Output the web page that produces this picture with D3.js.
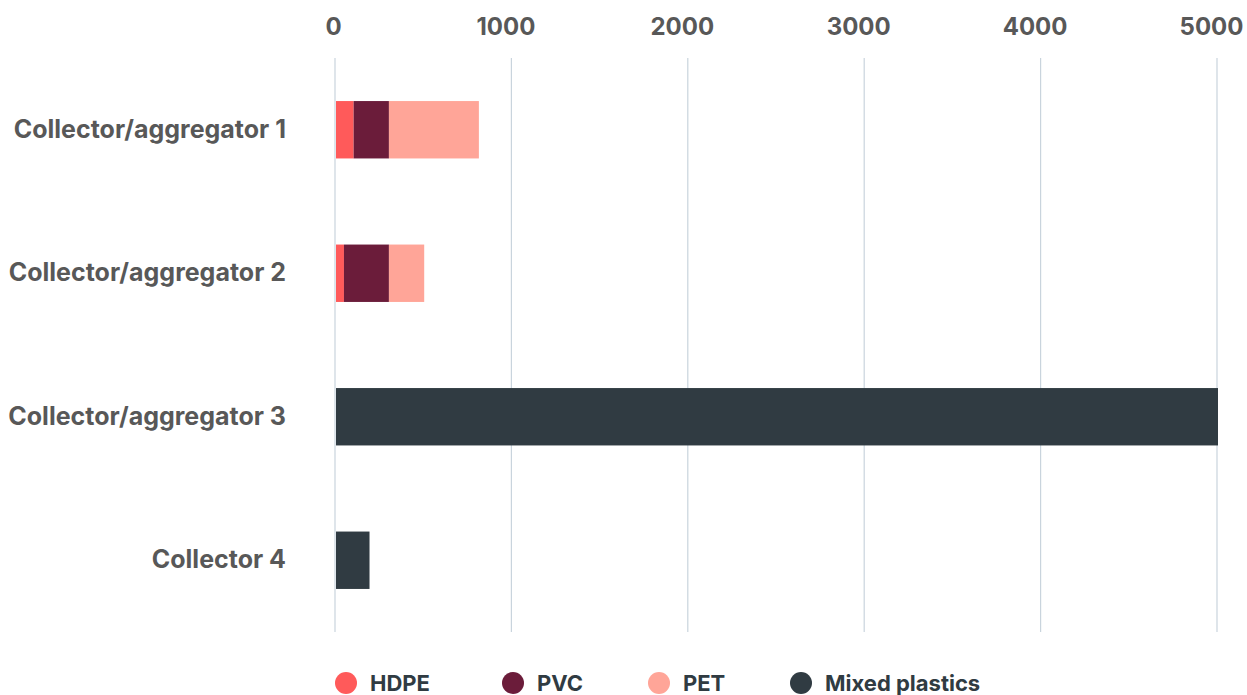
<!DOCTYPE html>
<html>
<head>
<meta charset="utf-8">
<script src="https://cdn.jsdelivr.net/npm/d3@7"></script>
<style>
  html, body { margin: 0; padding: 0; background: #fff; }
  body { font-family: Inter, "Open Sans", sans-serif; }
</style>
</head>
<body>
<div id="chart"></div>
<script>
const categories = ['Collector/aggregator 1', 'Collector/aggregator 2', 'Collector/aggregator 3', 'Collector 4'];
const seriesNames = ['HDPE', 'PVC', 'PET', 'Mixed plastics'];
const hdpe = [100, 45, 0, 0];
const pvc = [200, 255, 0, 0];
const pet = [510, 200, 0, 0];
const mixed = [0, 0, 5000, 190];
const xTicks = [0, 1000, 2000, 3000, 4000, 5000];
const colors = ['#ff5a5a', '#6b1c3a', '#ffa598', '#303b42'];

const width = 1247, height = 695;
const margin = { top: 58, right: 30, bottom: 63, left: 335 };
const innerW = 1217 - margin.left;
const innerH = height - margin.top - margin.bottom;

const svg = d3.select('#chart')
  .append('svg')
  .attr('width', width)
  .attr('height', height);

const g = svg.append('g')
  .attr('transform', `translate(${margin.left},${margin.top})`);

// build table for stacking
const table = categories.map((c, i) => ({
  category: c,
  'HDPE': hdpe[i],
  'PVC': pvc[i],
  'PET': pet[i],
  'Mixed plastics': mixed[i]
}));

const x = d3.scaleLinear().domain([0, 5000]).range([0, innerW]);
const y = d3.scaleBand().domain(categories).range([0, innerH]).paddingInner(0.6).paddingOuter(0.3);

// grid lines
g.append('g')
  .selectAll('line')
  .data(xTicks)
  .enter()
  .append('line')
  .attr('x1', d => x(d))
  .attr('x2', d => x(d))
  .attr('y1', 0)
  .attr('y2', innerH)
  .attr('stroke', '#c9d4dd')
  .attr('stroke-width', 1.2);

// top axis labels
const xAxis = g.append('g')
  .call(d3.axisTop(x).tickValues(xTicks).tickSize(0).tickPadding(23).tickFormat(d3.format('d')));
xAxis.select('.domain').remove();
xAxis.selectAll('text')
  .attr('dx', d => d === 0 ? -2 : -6)
  .style('font-size', '24px')
  .style('font-weight', '700')
  .style('fill', '#585858')
  .style('font-family', 'Inter, "Open Sans", sans-serif');

// stacked bars
const stack = d3.stack().keys(seriesNames);
const layers = stack(table);

g.selectAll('.layer')
  .data(layers)
  .enter()
  .append('g')
  .attr('class', 'layer')
  .attr('fill', (d, i) => colors[i])
  .selectAll('rect')
  .data(d => d)
  .enter()
  .append('rect')
  .attr('x', d => x(d[0]) + 1)
  .attr('y', d => y(d.data.category))
  .attr('width', d => Math.max(0, x(d[1]) - x(d[0])))
  .attr('height', y.bandwidth());

// category labels
const yAxis = g.append('g')
  .call(d3.axisLeft(y).tickSize(0).tickPadding(49));
yAxis.select('.domain').remove();
yAxis.selectAll('text')
  .style('font-size', '25px')
  .style('font-weight', '700')
  .style('fill', '#585858')
  .style('font-family', 'Inter, "Open Sans", sans-serif');

// legend
const legendX = [346, 513, 659, 801];
const legend = svg.append('g');
seriesNames.forEach((name, i) => {
  const item = legend.append('g').attr('transform', `translate(${legendX[i]},683)`);
  item.append('circle').attr('r', 11).attr('fill', colors[i]);
  item.append('text')
    .attr('x', 24)
    .attr('dy', '0.35em')
    .style('font-size', '22px')
    .style('font-weight', '700')
    .style('fill', '#303b42')
    .text(name);
});
</script>
</body>
</html>
